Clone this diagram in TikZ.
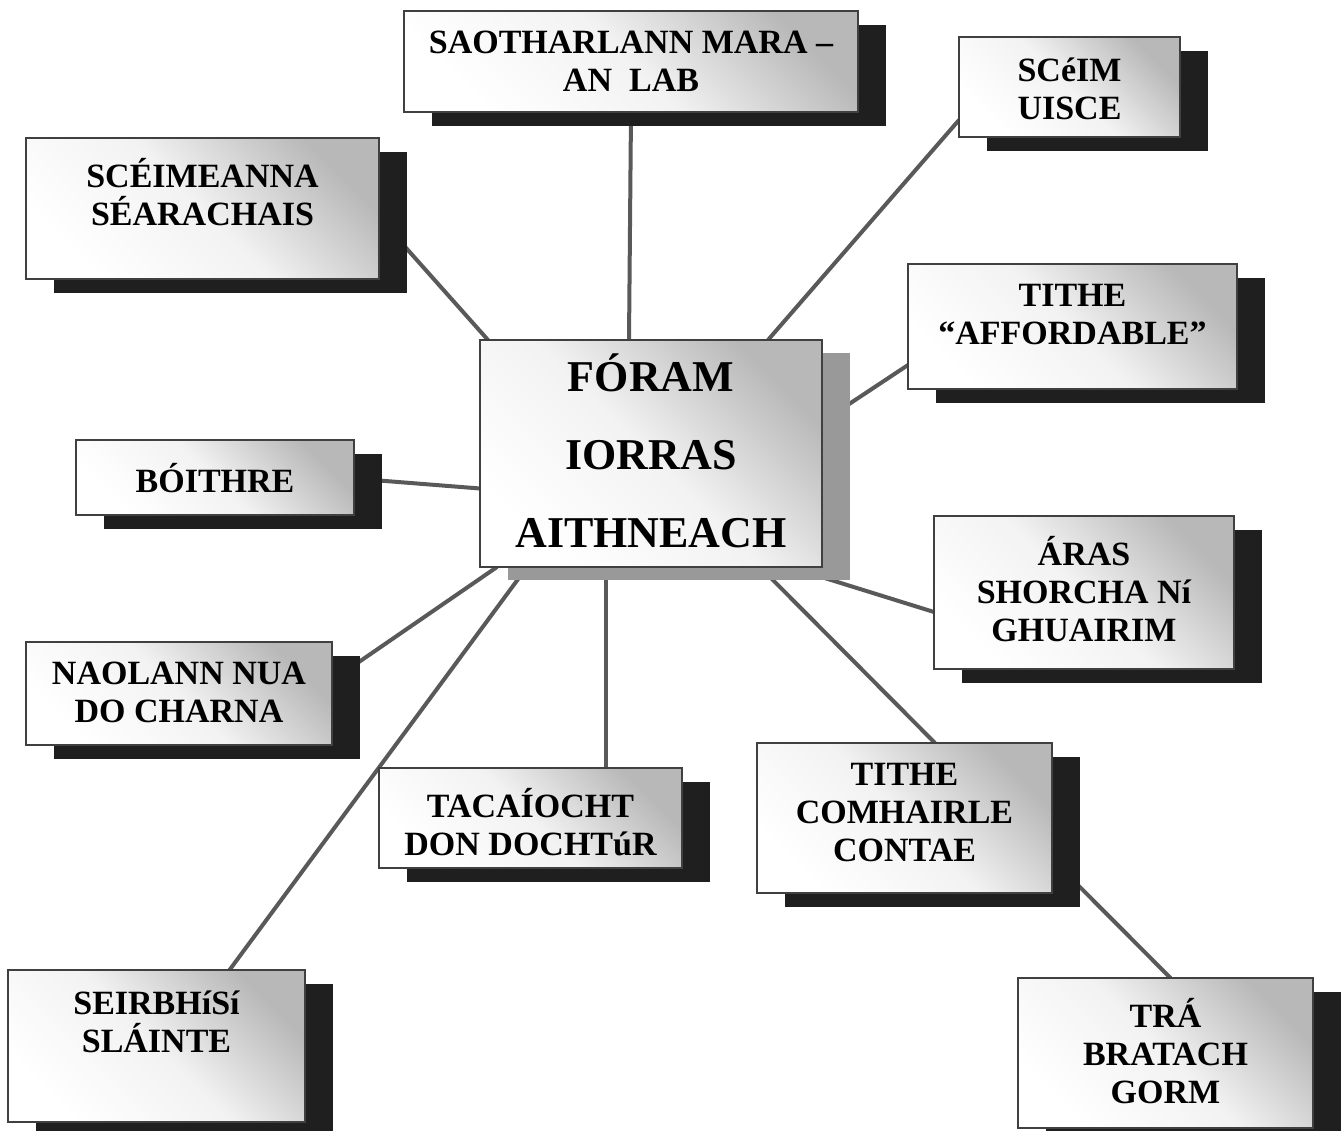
\documentclass[tikz,border=0pt]{standalone}
\usepackage{fontspec}
\setmainfont{Liberation Serif}
\usetikzlibrary{calc,shadows,backgrounds}

\begin{document}
\begin{tikzpicture}[x=0.5pt,y=-0.5pt]

	\tikzstyle box body=[draw=black!75, line width=0.7pt, inner sep=0pt, outer sep=0pt, top color=black!28, bottom color=white, middle color=black!5, shading angle=-45];
	\tikzstyle item box=[box body, general shadow={fill=black!88, shadow xshift=14pt, shadow yshift=-7pt}];
	\tikzstyle hub box=[box body, general shadow={fill=black!40, shadow xshift=14pt, shadow yshift=-6.5pt}];
	\tikzstyle item label=[anchor=north, yshift=-10pt, align=center, inner sep=0pt, font=\bfseries\fontsize{17}{19}\selectfont, execute at begin node={\rule{0pt}{16pt}}];
	\tikzstyle hub label=[anchor=north, yshift=-6.5pt, align=center, inner sep=0pt, font=\bfseries\fontsize{22}{39}\selectfont, execute at begin node={\rule{0pt}{21pt}}];
	\tikzstyle link lines=[line width=2pt, black!65];

	\useasboundingbox (0,0) rectangle (1343,1130);

	% centre
	\node[hub box, minimum width=171pt, minimum height=113.5pt, label={[hub label]north:{FÓRAM\\IORRAS\\AITHNEACH}}] (foram) at (651,453.5) {};

	% boxes round it
	\node[item box, minimum width=227pt, minimum height=50.5pt, label={[item label]north:{SAOTHARLANN MARA –\\AN\ \ LAB}}] (lab) at (631,61.5) {};
	\node[item box, minimum width=176.5pt, minimum height=70.5pt, label={[item label]north:{SCÉIMEANNA\\SÉARACHAIS}}] (seara) at (202.5,208.5) {};
	\node[item box, minimum width=110.5pt, minimum height=50pt, label={[item label]north:{SCéIM\\UISCE}}] (uisce) at (1069.5,87) {};
	\node[item box, minimum width=164.5pt, minimum height=62.5pt, label={[item label]north:{TITHE\\“AFFORDABLE”}}] (afford) at (1072.5,326.5) {};
	\node[item box, minimum width=139pt, minimum height=37.5pt, label={[item label]north:{BÓITHRE}}] (boithre) at (215,477.5) {};
	\node[item box, minimum width=150pt, minimum height=76.5pt, label={[item label]north:{ÁRAS\\SHORCHA Ní\\GHUAIRIM}}] (aras) at (1084,592.5) {};
	\node[item box, minimum width=153pt, minimum height=51.5pt, label={[item label]north:{NAOLANN NUA\\DO CHARNA}}] (naolann) at (179,693.5) {};
	\node[item box, minimum width=151.5pt, minimum height=50pt, label={[item label]north:{TACAÍOCHT\\DON DOCHTúR}}] (tacaiocht) at (530.5,818) {};
	\node[item box, minimum width=147.5pt, minimum height=75pt, label={[item label]north:{TITHE\\COMHAIRLE\\CONTAE}}] (comhairle) at (904.5,818) {};
	\node[item box, minimum width=148.5pt, minimum height=76pt, label={[item label]north:{SEIRBHíSí\\SLÁINTE}}] (slainte) at (156.5,1046) {};
	\node[item box, minimum width=147.5pt, minimum height=75pt, label={[item label]north:{TRÁ\\BRATACH\\GORM}}] (tra) at (1165.5,1053) {};

	\begin{pgfonlayer}{background}
		\draw[link lines] (lab.south) -- ($(foram.north)+(-22,0)$);
		\draw[link lines] ($(seara.east)+(0,9)$) -- ($(foram.north west)+(8,0)$);
		\draw[link lines] ($(uisce.south west)+(0,-17)$) -- ($(foram.north east)+(-54,0)$);
		\draw[link lines] ($(afford.south west)+(0,-24)$) -- ($(foram.north east)+(0,82)$);
		\draw[link lines] ($(boithre.east)+(0,1)$) -- ($(foram.west)+(0,35)$);
		\draw[link lines] ($(aras.west)+(0,19.5)$) -- ($(foram.south east)+(-7,8)$);
		\draw[link lines] ($(naolann.east)+(0,-13)$) -- ($(foram.south west)+(17,0)$);
		\draw[link lines] ($(slainte.north)+(73,0)$) -- ($(foram.south west)+(47,0)$);
		\draw[link lines] ($(tacaiocht.north)+(75.5,0)$) -- ($(foram.south)+(-45,0)$);
		\draw[link lines] ($(comhairle.north)+(30.5,0)$) -- ($(foram.south east)+(-62,0)$);
		\draw[link lines] ($(comhairle.south east)+(0,-34)$) -- ($(tra.north)+(5,0)$);
	\end{pgfonlayer}

\end{tikzpicture}
\end{document}
